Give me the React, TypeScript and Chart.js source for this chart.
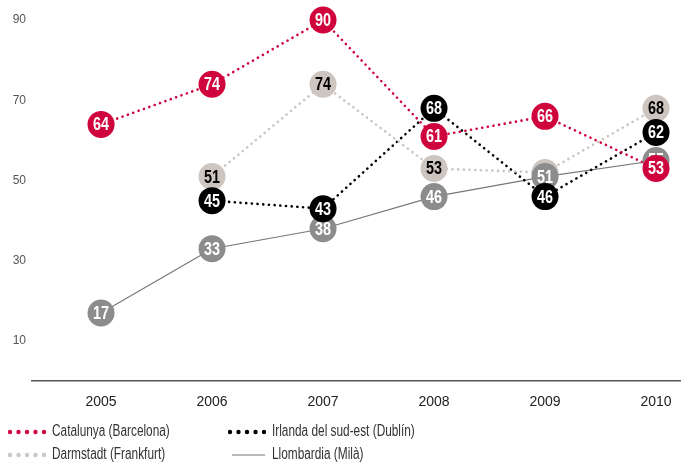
import React, { useEffect, useRef } from "react";
import { Chart, registerables } from "chart.js";

Chart.register(...registerables);

const years = [2005, 2006, 2007, 2008, 2009, 2010];
const yTicks = [10, 30, 50, 70, 90];
const seriesNames = [
  "Catalunya (Barcelona)",
  "Darmstadt (Frankfurt)",
  "Irlanda del sud-est (Dublín)",
  "Llombardia (Milà)",
];
const catalunya = [64, 74, 90, 61, 66, 53];
const darmstadt = [null, 51, 74, 53, 52, 68];
const irlanda = [null, 45, 43, 68, 46, 62];
const llombardia = [17, 33, 38, 46, 51, 55];

const lineColors = ["#d0043c", "#cdc5c0", "#000000", "#777777"];
const fillColors = ["#d0043c", "#cdc5c0", "#000000", "#8c8c8c"];
const textColors = ["#ffffff", "#000000", "#ffffff", "#ffffff"];
const dashed = [true, true, true, false];

const FONT = "'Liberation Sans', Arial, sans-serif";

function toPoints(vals: (number | null)[]) {
  return years
    .map((y, i) => ({ x: y, y: vals[i] }))
    .filter((p) => p.y !== null) as { x: number; y: number }[];
}

function squeezedText(ctx: any, text: string, x: number, y: number, align: "left" | "center", sx: number) {
  ctx.save();
  ctx.translate(x, y);
  ctx.scale(sx, 1);
  ctx.textAlign = align;
  ctx.fillText(text, 0, 0);
  ctx.restore();
}

const circlePlugin = {
  id: "circleLabels",
  afterDatasetsDraw(chart: any) {
    const ctx = chart.ctx;
    const order = [1, 3, 2, 0];
    ctx.save();
    for (const i of order) {
      const meta = chart.getDatasetMeta(i);
      const ds = chart.data.datasets[i];
      meta.data.forEach((el: any, j: number) => {
        const v = ds.data[j].y;
        ctx.beginPath();
        ctx.arc(el.x, el.y, 13.5, 0, Math.PI * 2);
        ctx.fillStyle = fillColors[i];
        ctx.fill();
        ctx.fillStyle = textColors[i];
        ctx.font = `bold 18px ${FONT}`;
        ctx.textBaseline = "middle";
        squeezedText(ctx, String(v), el.x, el.y + 1, "center", 0.8);
      });
    }
    ctx.restore();
  },
};

const legendPlugin = {
  id: "customLegend",
  afterDraw(chart: any) {
    const ctx = chart.ctx;
    const h = chart.height;
    const items = [
      { i: 0, x: 10, y: h - 30 },
      { i: 2, x: 230, y: h - 30 },
      { i: 1, x: 10, y: h - 7 },
      { i: 3, x: 230, y: h - 7 },
    ];
    ctx.save();
    for (const it of items) {
      if (dashed[it.i]) {
        ctx.fillStyle = lineColors[it.i];
        for (let k = 0; k < 5; k++) {
          ctx.beginPath();
          ctx.arc(it.x + k * 8.5, it.y, 2.2, 0, Math.PI * 2);
          ctx.fill();
        }
      } else {
        ctx.strokeStyle = lineColors[it.i];
        ctx.lineWidth = 1;
        ctx.beginPath();
        ctx.moveTo(it.x + 2, it.y);
        ctx.lineTo(it.x + 35, it.y);
        ctx.stroke();
      }
      ctx.fillStyle = "#333333";
      ctx.font = `16px ${FONT}`;
      ctx.textBaseline = "middle";
      squeezedText(ctx, seriesNames[it.i], it.x + 42, it.y, "left", 0.74);
    }
    ctx.restore();
  },
};

export default function App() {
  const ref = useRef<HTMLCanvasElement | null>(null);
  useEffect(() => {
    if (!ref.current) return;
    const all = [catalunya, darmstadt, irlanda, llombardia];
    const chart = new Chart(ref.current, {
      type: "line",
      data: {
        datasets: all.map((vals, i) => ({
          label: seriesNames[i],
          data: toPoints(vals),
          borderColor: lineColors[i],
          borderWidth: dashed[i] ? 2.6 : 1.2,
          borderDash: dashed[i] ? [0.1, 5.6] : [],
          borderCapStyle: dashed[i] ? "round" : "butt",
          pointRadius: 0,
          pointHoverRadius: 0,
          tension: 0,
          fill: false,
          clip: false as any,
        })),
      },
      options: {
        animation: false,
        responsive: false,
        maintainAspectRatio: false,
        events: [],
        layout: { padding: { left: 0, right: 0, top: 0, bottom: 38 } },
        plugins: {
          legend: { display: false },
          tooltip: { enabled: false },
        },
        scales: {
          x: {
            type: "linear",
            min: 2004.378,
            max: 2010.225,
            grid: { display: false, drawTicks: false },
            border: { display: true, color: "#555555", width: 1.5 },
            afterBuildTicks: (axis: any) => {
              axis.ticks = years.map((v) => ({ value: v }));
            },
            afterFit: (s: any) => {
              s.paddingLeft = 0;
              s.paddingRight = 0;
            },
            ticks: {
              padding: 13,
              color: "#222222",
              font: { family: FONT, size: 14 },
              callback: (v: any) => String(v),
            },
          },
          y: {
            type: "linear",
            min: 0,
            max: 95,
            grid: { display: false, drawTicks: false },
            border: { display: false },
            afterBuildTicks: (axis: any) => {
              axis.ticks = yTicks.map((v) => ({ value: v }));
            },
            afterFit: (s: any) => {
              s.width = 32;
              s.paddingTop = 0;
              s.paddingBottom = 0;
            },
            ticks: {
              padding: 6,
              color: "#555555",
              font: { family: FONT, size: 12 },
            },
          },
        },
      },
      plugins: [circlePlugin, legendPlugin],
    } as any);
    return () => chart.destroy();
  }, []);
  return (
    <div style={{ position: "fixed", left: 0, top: 0, width: 681, height: 462, background: "#fff" }}>
      <canvas ref={ref} width={681} height={462} style={{ width: 681, height: 462 }} />
    </div>
  );
}
